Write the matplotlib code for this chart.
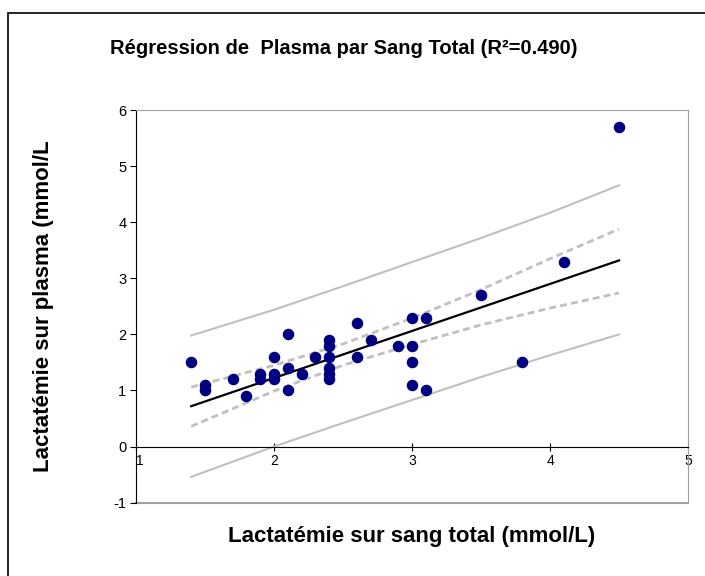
import matplotlib
matplotlib.use('Agg')
import matplotlib.pyplot as plt
from matplotlib.patches import Rectangle

plt.rcParams['font.family'] = ['Liberation Sans', 'DejaVu Sans']

# Points (sang total, plasma)
sang = [1.4, 1.5, 1.5, 1.7, 1.8, 1.9, 1.9, 2.0, 2.0, 2.0,
        2.1, 2.1, 2.1, 2.2, 2.3, 2.4, 2.4, 2.4, 2.4, 2.4,
        2.4, 2.6, 2.6, 2.7, 2.9, 3.0, 3.0, 3.0, 3.0, 3.1,
        3.1, 3.5, 3.8, 4.1, 4.5]
plasma = [1.5, 1.1, 1.0, 1.2, 0.9, 1.3, 1.2, 1.6, 1.3, 1.2,
          2.0, 1.4, 1.0, 1.3, 1.6, 1.9, 1.8, 1.6, 1.4, 1.3,
          1.2, 2.2, 1.6, 1.9, 1.8, 2.3, 1.8, 1.5, 1.1, 2.3,
          1.0, 2.7, 1.5, 3.3, 5.7]

# droite de regression
reg_x = [1.4, 4.5]
reg_y = [0.72, 3.32]

# bandes (intervalle de confiance et de prediction)
band_x = [1.4, 2.0, 2.5, 3.0, 3.5, 4.0, 4.5]
ic_haut = [1.06, 1.45, 1.83, 2.29, 2.80, 3.35, 3.88]
ic_bas = [0.36, 0.99, 1.45, 1.82, 2.17, 2.47, 2.74]
ip_haut = [1.98, 2.44, 2.86, 3.29, 3.72, 4.17, 4.66]
ip_bas = [-0.54, 0.00, 0.42, 0.83, 1.24, 1.63, 2.00]

xticks = [1, 2, 3, 4, 5]
yticks = [-1, 0, 1, 2, 3, 4, 5, 6]

fig = plt.figure(figsize=(7.05, 5.76), dpi=100)
ax = fig.add_axes([0.1929, 0.1274, 0.7830, 0.6813])

ax.plot(band_x, ip_haut, '-', color='#c0c0c0', lw=1.5, zorder=2)
ax.plot(band_x, ip_bas, '-', color='#c0c0c0', lw=1.5, zorder=2)
ax.plot(band_x, ic_haut, '--', color='#c0c0c0', lw=2, dashes=(2.5, 1.5), zorder=2)
ax.plot(band_x, ic_bas, '--', color='#c0c0c0', lw=2, dashes=(2.5, 1.5), zorder=2)
ax.plot(reg_x, reg_y, '-', color='black', lw=1.6, zorder=3)
ax.plot(sang, plasma, 'o', color='#000080', ms=7.3, zorder=4)

ax.set_xlim(1, 5)
ax.set_ylim(-1, 6)
ax.set_xticks(xticks)
ax.set_yticks(yticks)
ax.set_xticklabels([str(t) for t in xticks], fontsize=10.5)
ax.set_yticklabels([str(t) for t in yticks], fontsize=10.5)

ax.spines['bottom'].set_position(('data', 0))
ax.spines['bottom'].set_color('black')
ax.spines['left'].set_color('black')
ax.spines['top'].set_color('#a0a0a0')
ax.spines['right'].set_color('#a0a0a0')
ax.axhline(-1, color='#a0a0a0', lw=1.5, clip_on=False, zorder=1)
ax.tick_params(axis='x', direction='inout', length=6, pad=2)
ax.tick_params(axis='y', direction='out', length=4, pad=3)
for lab in ax.get_xticklabels():
    lab.set_horizontalalignment('left' if lab.get_text() == '1' else 'center')

fig.text(0.488, 0.915, 'Régression de  Plasma par Sang Total (R²=0.490)',
         ha='center', va='center', fontsize=14.5, fontweight='bold')
fig.text(0.584, 0.068, 'Lactatémie sur sang total (mmol/L)',
         ha='center', va='center', fontsize=16, fontweight='bold')
fig.text(0.062, 0.468, 'Lactatémie sur plasma (mmol/L',
         ha='center', va='center', rotation=90, fontsize=16, fontweight='bold')

fig.patches.append(Rectangle((8 / 705, -0.05), 1.1, 0.05 + 1 - 13 / 576,
                             transform=fig.transFigure, fill=False,
                             edgecolor='black', lw=1.2))

fig.savefig('out.png', dpi=100)
